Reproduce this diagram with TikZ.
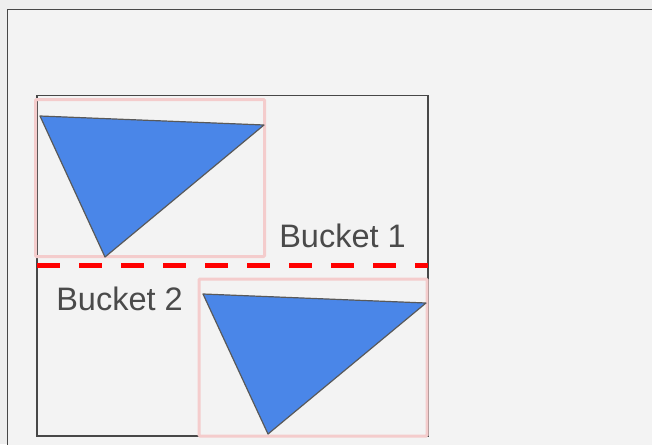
\documentclass[tikz,border=0pt]{standalone}
\usepackage{fontspec}
\setmainfont{Liberation Sans}
\definecolor{bgout}{HTML}{EEEEEE}
\definecolor{bgin}{HTML}{F3F3F3}
\definecolor{frame}{HTML}{474747}
\definecolor{pinkbox}{HTML}{F4CCCC}
\definecolor{triblue}{HTML}{4A86E8}
\definecolor{tristroke}{HTML}{595959}
\definecolor{txt}{HTML}{4A4A4A}
\tikzset{
  framebox/.style={draw=frame, line width=1.5pt},
  bbox/.style={draw=pinkbox, line width=3pt, rounded corners=1pt},
  tri/.style={fill=triblue, draw=tristroke, line width=1.2pt, line join=round},
  split/.style={draw=red, line width=5pt, dash pattern=on 23pt off 19pt},
  lbl/.style={text=txt, font=\fontsize{32.5}{38}\selectfont, inner sep=0pt}
}
\begin{document}
\begin{tikzpicture}[x=1pt,y=-1pt]
\useasboundingbox (0,0) rectangle (652,444);
\clip (0,0) rectangle (652,444);
\fill[bgout] (0,0) rectangle (652,444);
\draw[framebox, fill=bgin] (7.5,9.5) rectangle (700,500);
% container
\draw[framebox] (37,95.5) rectangle (428,436);
% bounding boxes
\draw[bbox] (35.5,99.5) rectangle (264.5,256.5);
\draw[bbox] (199,279) rectangle (427,436);
% triangles
\draw[tri] (40,116) -- (264,125) -- (105,257) -- cycle;
\draw[tri] (203,294) -- (426,303) -- (268,434) -- cycle;
% split line
\coordinate (sl) at (37,265.5);
\coordinate (sr) at (428,265.5);
\draw[split] (sl) -- (sr);
% labels
\node[lbl] (b1) at (342.5,236) {Bucket 1};
\node[lbl] (b2) at (119.5,299) {Bucket 2};
\end{tikzpicture}
\end{document}
